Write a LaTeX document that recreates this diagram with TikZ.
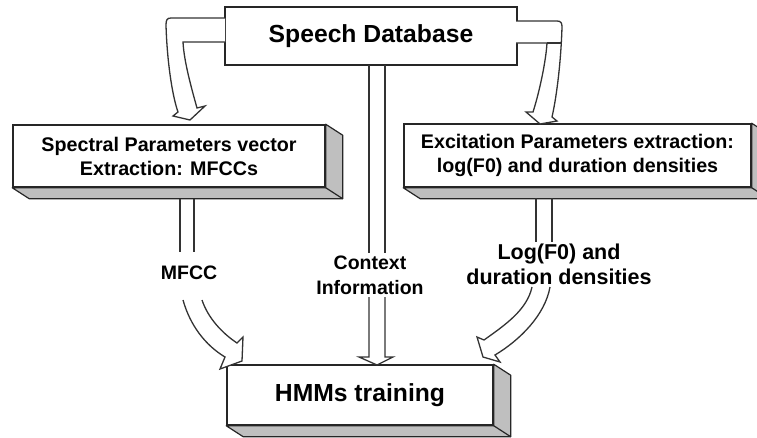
\documentclass[tikz,border=0pt]{standalone}
\usepackage{fontspec}
\setmainfont{Liberation Sans}
\tikzset{
  box/.style={draw=black!85, line width=1.5pt, fill=white, inner sep=0pt,
    align=center, font=\bfseries\fontsize{19.7}{24}\selectfont},
  bigbox/.style={box, font=\bfseries\fontsize{24.7}{29}\selectfont},
  depthface/.style={draw=black!85, line width=1.2pt, fill=black!25, line join=round},
  shaft/.style={draw=black!80, line width=1.3pt},
  blockhead/.style={shaft, line join=miter, fill=white},
  lbl/.style={align=center, inner sep=0pt, font=\bfseries\fontsize{19.5}{25}\selectfont},
  lblbig/.style={lbl, font=\bfseries\fontsize{21.5}{25}\selectfont}
}
% raised depth (right and bottom faces) of a box node
\newcommand{\boxdepth}[1]{%
  \path[depthface] (#1.north east) -- ([shift={(17,11)}]#1.north east)
    -- ([shift={(17,11)}]#1.south east) -- ([shift={(17,11)}]#1.south west)
    -- (#1.south west) -- (#1.south east) -- cycle;
  \draw[depthface] (#1.south east) -- ([shift={(17,11)}]#1.south east);
}
\begin{document}
\begin{tikzpicture}[x=1pt, y=-1pt]
  \useasboundingbox (0,0) rectangle (757,437);
  \clip (0,0) rectangle (757,437);

  % boxes
  \node[bigbox, minimum width=292, minimum height=58] (db) at (371,36) {Speech Database};
  \node[box, minimum width=312, minimum height=62] (spec) at (169,156)
    {Spectral Parameters vector\\Extraction: MFCCs};
  \node[box, minimum width=347, minimum height=63] (exc) at (577.5,155.5)
    {Excitation Parameters extraction:\\log(F0) and duration densities};
  \node[bigbox, minimum width=266, minimum height=60] (hmm) at (360,395) {HMMs training};
  \boxdepth{spec}
  \boxdepth{exc}
  \boxdepth{hmm}

  % labels on the flows
  \node[lbl] (lmfcc) at (189,273) {MFCC};
  \node[lbl] (lctx) at (370,275.5) {Context\\Information};
  \node[lblbig] (llog) at (559,264.5) {Log(F0) and\\duration densities};

  % database -> spectral extraction
  \draw[blockhead] (225,18) -- (171,18) .. controls (167,18) and (166,20) .. (166,25)
    .. controls (167,60) and (172,95) .. (178,112) -- (173,116) -- (190,120)
    -- (205,106) -- (197,108) .. controls (192,90) and (184,62) .. (183,42) -- (225,42);

  % database -> excitation extraction
  \draw[blockhead] (516,21) -- (557,21) .. controls (561,21) and (562,23) .. (562,27)
    .. controls (561,60) and (557,95) .. (552,117) -- (557,121) -- (540,124)
    -- (526,112) -- (533,112) .. controls (540,90) and (546,60) .. (547,43) -- (516,43);
  \draw[shaft] (547,43) -- (561,43);

  % database -> HMM training (context information)
  \draw[shaft] (369,65) -- (369,253);
  \draw[shaft] (385,65) -- (385,253);
  \draw[blockhead] (369,297) -- (369,357) -- (359,357) -- (377,365) -- (393,357)
    -- (385,357) -- (385,297);

  % spectral extraction -> HMM training (MFCC)
  \draw[shaft] (180,199) -- (180,252);
  \draw[shaft] (194,199) -- (194,252);
  \draw[blockhead] (183,300) .. controls (190,325) and (205,345) .. (225,357)
    -- (220,369) -- (242,361) -- (243,337) -- (237,343)
    .. controls (222,333) and (208,318) .. (202,300);

  % excitation extraction -> HMM training
  \draw[shaft] (536,198) -- (536,242);
  \draw[shaft] (552,198) -- (552,242);
  \draw[blockhead] (550,287) .. controls (545,315) and (520,340) .. (495,355)
    -- (500,362) -- (483,357) -- (477,337) -- (484,340)
    .. controls (505,325) and (527,310) .. (532,287);
\end{tikzpicture}
\end{document}
